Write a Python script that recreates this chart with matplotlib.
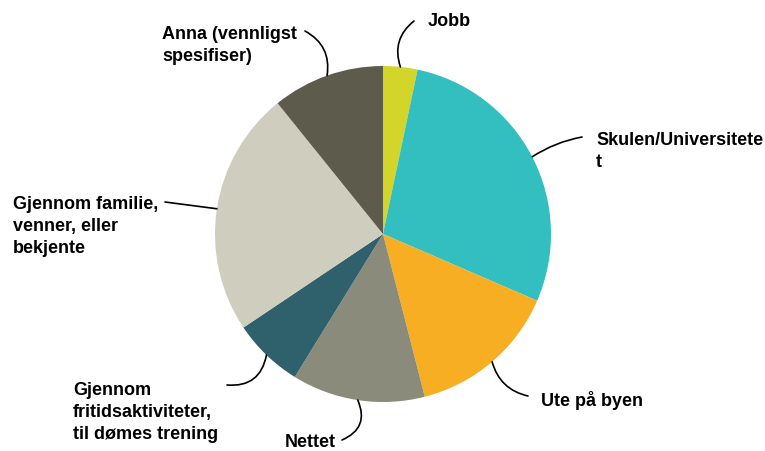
import numpy as np
import matplotlib.pyplot as plt

labels = ['Jobb', 'Skulen/Universitetet', 'Ute på byen', 'Nettet',
          'Gjennom fritidsaktiviteter, til dømes trening',
          'Gjennom familie, venner, eller bekjente',
          'Anna (vennligst spesifiser)']
shown = ['Jobb', 'Skulen/Universitete\nt', 'Ute på byen', 'Nettet',
         'Gjennom\nfritidsaktiviteter,\ntil dømes trening',
         'Gjennom familie,\nvenner, eller\nbekjente',
         'Anna (vennligst\nspesifiser)']
values = [3.3, 28.2, 14.5, 12.8, 6.8, 23.6, 10.8]
colors = ['#d3d52b', '#33bec0', '#f7ae22', '#8a8b7a', '#2f616d', '#cfcdbd', '#5d5c4c']

W, H = 765, 452
fig = plt.figure(figsize=(W / 100, H / 100), dpi=100)
ax = fig.add_axes([0, 0, 1, 1])

cx, cy, r = 383, H - 235, 168
wedges, _ = ax.pie(values, colors=colors, startangle=90, counterclock=False,
                   center=(cx, cy), radius=r, frame=True)
ax.set_xlim(0, W)
ax.set_ylim(0, H)
ax.set_aspect('equal')
ax.axis('off')

# (line end near text, text top-left, curvature) in pixel coords from top
layout = [
    ((414, 22), (428, 13), 0.35),
    ((582, 138), (596, 132), 0.1),
    ((528, 397), (541, 391), -0.3),
    ((342, 441), (285, 434), 0.5),
    ((227, 386), (73, 382), 0.45),
    ((165, 203), (13, 196), 0.0),
    ((305, 32), (162, 26), -0.35),
]

font = dict(family=['Liberation Sans', 'DejaVu Sans'], weight='bold', fontsize=13)

for w, txt, (end, tpos, rad) in zip(wedges, shown, layout):
    mid = np.deg2rad((w.theta1 + w.theta2) / 2)
    ax_pt = (cx + r * np.cos(mid), cy + r * np.sin(mid))
    ax.annotate('', xy=ax_pt, xytext=(end[0], H - end[1]),
                arrowprops=dict(arrowstyle='-', color='black', lw=1.2,
                                connectionstyle=f'arc3,rad={rad}',
                                shrinkA=0, shrinkB=0))
    ax.text(tpos[0], H - tpos[1], txt, ha='left', va='top', linespacing=1.4, **font)

fig.savefig('out.png', dpi=100)
